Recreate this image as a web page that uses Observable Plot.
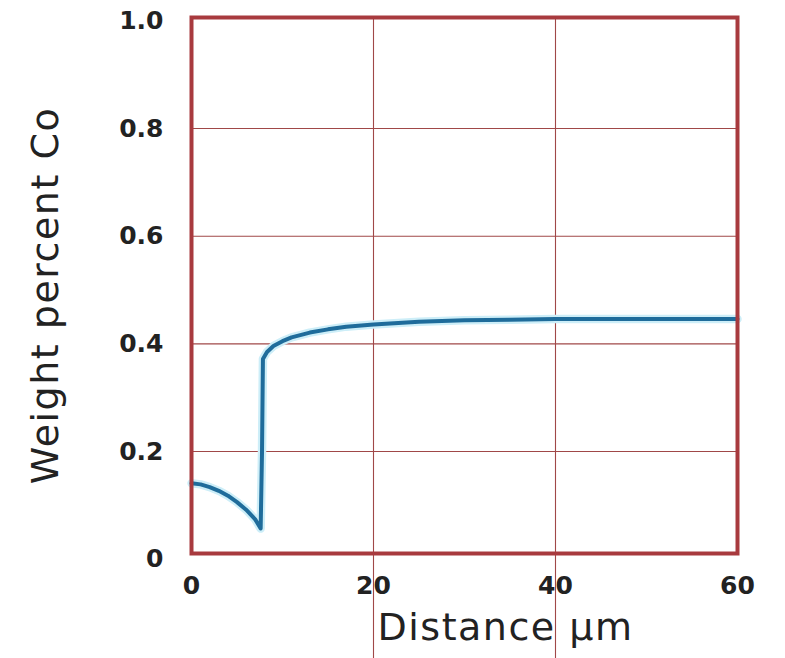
<!DOCTYPE html>
<html>
<head>
<meta charset="utf-8">
<script src="https://cdn.jsdelivr.net/npm/d3@7"></script>
<script src="https://cdn.jsdelivr.net/npm/@observablehq/plot@0.6"></script>
<style>
  html, body { margin: 0; padding: 0; background: #fff; }
  #chart svg { display: block; }
</style>
</head>
<body>
<div id="chart"></div>
<script>
// Distance (µm) and weight percent Co
const distance = [0, 1, 2, 3, 4, 5, 6, 7, 7.6, 7.75, 7.85, 8.3, 9.0, 10, 11, 13, 15, 17, 20, 25, 30, 35, 40, 50, 60];
const weightCo = [0.141, 0.139, 0.134, 0.127, 0.118, 0.106, 0.092, 0.074, 0.057, 0.2, 0.372, 0.385, 0.396, 0.405, 0.412, 0.421, 0.427, 0.432, 0.436, 0.441, 0.444, 0.445, 0.446, 0.446, 0.446];
const xTicks = [0, 20, 40, 60];
const yTicks = [0, 0.2, 0.4, 0.6, 0.8, 1.0];
const yTickLabels = ["0", "0.2", "0.4", "0.6", "0.8", "1.0"];
const xGrid = [20, 40];
const yGrid = [0.2, 0.4, 0.6, 0.8];
const xTitle = "Distance \u00b5m";
const yTitle = "Weight percent Co";

const data = distance.map((d, i) => ({x: d, y: weightCo[i]}));
const yDomain = [0.0106, 1.0063];
const yBottomOfPage = -0.185; // gridlines run down off the frame in the original

const chart = Plot.plot({
  width: 785,
  height: 658,
  marginLeft: 191,
  marginRight: 48,
  marginTop: 17,
  marginBottom: 105,
  style: {background: "#fff", overflow: "visible"},
  x: {domain: [0, 60], label: null},
  y: {domain: yDomain, label: null},
  marks: [
    Plot.ruleY(yGrid, {stroke: "#a04848", strokeWidth: 1.1}),
    Plot.ruleX(xGrid, {y1: yBottomOfPage, y2: yDomain[1], stroke: "#a04848", strokeWidth: 1.1, clip: false}),
    Plot.line(data, {x: "x", y: "y", stroke: "#cdeef8", strokeWidth: 8.5, strokeLinejoin: "round"}),
    Plot.line(data, {x: "x", y: "y", stroke: "#1f6c9b", strokeWidth: 4, strokeLinejoin: "round"}),
    Plot.frame({stroke: "#a83a3e", strokeWidth: 4}),
    Plot.axisX({ticks: xTicks, tickSize: 0, tickPadding: 23, fontSize: 25, fontWeight: "bold", fill: "#222", label: null}),
    Plot.axisY({ticks: yTicks, tickFormat: (d) => yTickLabels[yTicks.indexOf(d)], tickSize: 0, tickPadding: 28, fontSize: 25, fontWeight: "bold", fill: "#222", label: null}),
    Plot.text([xTitle], {frameAnchor: "bottom", dx: 41, dy: 86, fontSize: 38, fill: "#222", fontFamily: "DejaVu Sans"}),
    Plot.text([yTitle], {frameAnchor: "left", textAnchor: "middle", dx: -146, dy: 10, rotate: -90, fontSize: 38, fill: "#222", fontFamily: "DejaVu Sans"})
  ]
});
chart.style.fontFamily = "DejaVu Sans";
chart.querySelectorAll("text").forEach(t => {
  if (t.textContent === xTitle || t.textContent === yTitle) t.setAttribute("letter-spacing", "1.5");
});
document.getElementById("chart").append(chart);
</script>
</body>
</html>
